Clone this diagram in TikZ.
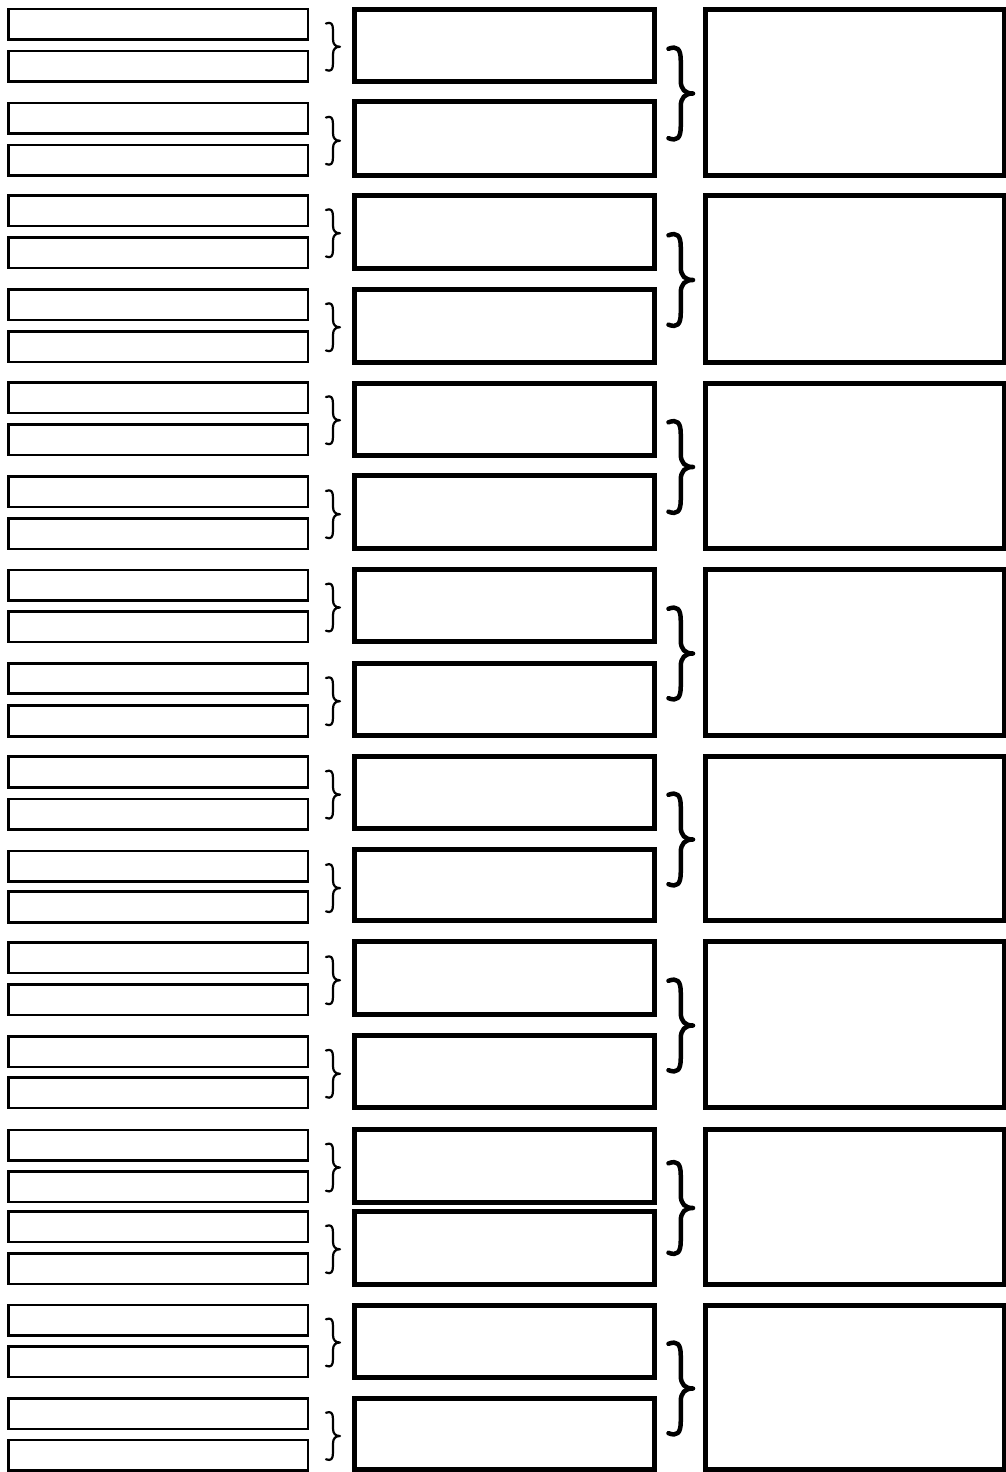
\documentclass[tikz,border=0pt]{standalone}
\usetikzlibrary{calc}
\tikzset{
  smallbox/.style={draw=black, line width=2.8pt, inner sep=0pt, outer sep=0pt, fill=white},
  bigbox/.style={draw=black, line width=5pt, inner sep=0pt, outer sep=0pt, fill=white},
  thinbrace/.style={draw=black, line width=2.2pt, line cap=round, line join=round},
  thickbrace/.style={draw=black, line width=4.5pt, line cap=round, line join=round}
}
\newcommand\boxnode[6]{%
  \pgfmathsetmacro\bw{#5-#3}%
  \pgfmathsetmacro\bh{#6-#4}%
  \node[#1, minimum width=\bw pt, minimum height=\bh pt] (#2) at ({(#3+#5)/2},{(#4+#6)/2}) {};%
}
% #1 style, #2 x left (ends), #3 y top, #4 y bottom, #5 width, #6 radius
\newcommand\curly[6]{%
  \pgfmathsetmacro\cxm{#2+#5/2}%
  \pgfmathsetmacro\cxt{#2+#5}%
  \pgfmathsetmacro\cym{(#3+#4)/2}%
  \pgfmathsetmacro\cxa{#2+#5*0.35}%
  \pgfmathsetmacro\cxb{#2+#5*0.68}%
  \draw[#1] (#2,#3+#6*0.1) .. controls (\cxa,#3-#6*0.15) and (\cxm,#3+#6*0.1) .. (\cxm,#3+#6)
     -- (\cxm,\cym-#6)
     .. controls (\cxm,\cym-#6*0.3) and (\cxb,\cym) .. (\cxt,\cym)
     .. controls (\cxb,\cym) and (\cxm,\cym+#6*0.3) .. (\cxm,\cym+#6)
     -- (\cxm,#4-#6)
     .. controls (\cxm,#4-#6*0.1) and (\cxa,#4+#6*0.15) .. (#2,#4-#6*0.1);%
}
\begin{document}
\begin{tikzpicture}[x=1pt,y=-1pt]
\useasboundingbox (0,0) rectangle (1006,1472);
\fill[white] (0,0) rectangle (1006,1472);
\foreach \i/\sa/\sb/\sc/\sd/\ma/\mb/\mc/\md in {
  1/9/51/103/145/9.5/81.5/101.5/175.5,
  2/195.5/237.5/289.5/331.5/195.5/268.5/289.5/362.5,
  3/382.5/424.5/476.5/518.5/383.5/455.5/475.5/548.5,
  4/570/611.5/663.3/705.7/569.5/641/663.5/735.5,
  5/756.7/799/851/891.7/756.5/828.5/849.5/920.5,
  6/942.5/984.5/1036.5/1077.5/941.5/1014.5/1035.5/1107.5,
  7/1130/1171.5/1211.5/1253.5/1129.5/1202.5/1211.5/1284.5,
  8/1305/1346.5/1398.5/1440/1305.5/1377.5/1398.5/1469.5}{
  % left column small boxes
  \boxnode{smallbox}{s\i a}{8.7}{\sa}{308}{\sa+30.5}
  \boxnode{smallbox}{s\i b}{8.7}{\sb}{308}{\sb+30.5}
  \boxnode{smallbox}{s\i c}{8.7}{\sc}{308}{\sc+30.5}
  \boxnode{smallbox}{s\i d}{8.7}{\sd}{308}{\sd+30.5}
  % middle column boxes
  \boxnode{bigbox}{m\i a}{354.5}{\ma}{654.5}{\mb}
  \boxnode{bigbox}{m\i b}{354.5}{\mc}{654.5}{\md}
  % right column box
  \boxnode{bigbox}{r\i}{705.5}{\ma}{1004.5}{\md}
  % small braces
  \pgfmathsetmacro\pa{(\sa+\sb+30.5)/2+1.5}
  \pgfmathsetmacro\pb{(\sc+\sd+30.5)/2+1.5}
  \curly{thinbrace}{326}{\pa-24}{\pa+24}{14}{7.5}
  \curly{thinbrace}{326}{\pb-24}{\pb+24}{14}{7.5}
  % big brace
  \pgfmathsetmacro\pc{(\ma+\md)/2+1}
  \curly{thickbrace}{668.5}{\pc-46}{\pc+46}{24.5}{13}
}
\end{tikzpicture}
\end{document}
